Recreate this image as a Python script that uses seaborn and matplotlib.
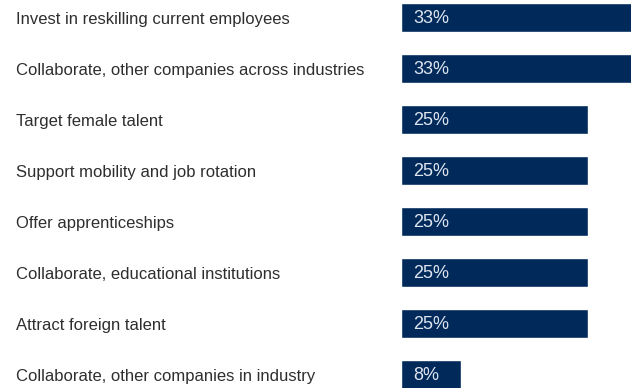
import matplotlib
matplotlib.use("Agg")
import matplotlib.pyplot as plt
import matplotlib.transforms as mtransforms
import seaborn as sns
import pandas as pd

# ── Data ────────────────────────────────────────────────────────────────────
labels = [
    "Invest in reskilling current employees",
    "Collaborate, other companies across industries",
    "Target female talent",
    "Support mobility and job rotation",
    "Offer apprenticeships",
    "Collaborate, educational institutions",
    "Attract foreign talent",
    "Collaborate, other companies in industry",
]
values = [33, 33, 25, 25, 25, 25, 25, 8]

BAR_COLOR = "#012a5b"
VALUE_COLOR = "#dfe5ef"
TEXT_COLOR = "#2e2e2e"

sns.set_style("white")
plt.rcParams["font.family"] = ["Liberation Sans Narrow", "Liberation Sans", "DejaVu Sans"]

df = pd.DataFrame({"label": labels, "value": values})

fig = plt.figure(figsize=(6.31, 3.88), dpi=100)
ax = fig.add_axes([401 / 631, 0, 230 / 631, 1])

sns.barplot(data=df, x="value", y="label", orient="h", color=BAR_COLOR,
            width=0.57, saturation=1, ax=ax)

# bars for 33% run past the right edge of the figure, as in the source
ax.set_xlim(0, 30.75)
ax.set_ylim(7.265, -0.343)
ax.set_axis_off()

trans = mtransforms.blended_transform_factory(fig.transFigure, ax.transData)
for i, (lab, v) in enumerate(zip(labels, values)):
    ax.text(16 / 631, i + 0.04, lab, transform=trans, ha="left", va="center",
            fontsize=12, color=TEXT_COLOR, clip_on=False)
    ax.text(1.6, i + 0.02, f"{v}%", ha="left", va="center", fontsize=13,
            color=VALUE_COLOR)

fig.savefig("out.png", dpi=100)
